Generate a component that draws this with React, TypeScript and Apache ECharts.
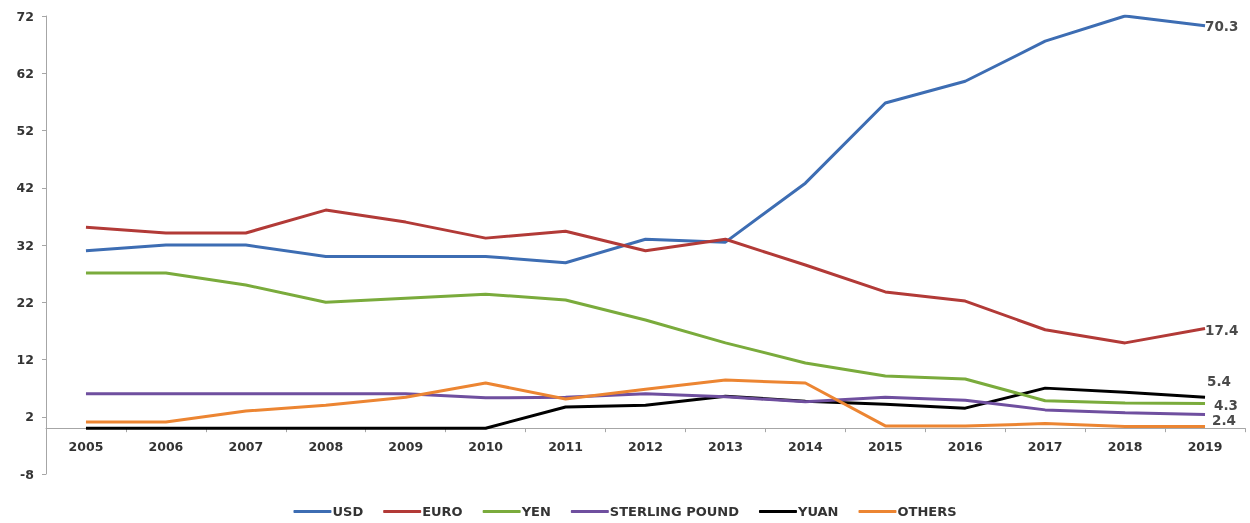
import React, { useEffect, useRef } from "react";
import * as echarts from "echarts";

const years = ["2005", "2006", "2007", "2008", "2009", "2010", "2011", "2012", "2013", "2014", "2015", "2016", "2017", "2018", "2019"];
const usd = [31, 32, 32, 30, 30, 30, 28.9, 33, 32.5, 42.8, 56.8, 60.6, 67.6, 72, 70.3];
const euro = [35.1, 34.1, 34.1, 38.1, 36, 33.2, 34.4, 31, 33, 28.5, 23.8, 22.2, 17.2, 14.9, 17.4];
const yen = [27.1, 27.1, 25, 22, 22.7, 23.4, 22.4, 18.9, 14.9, 11.4, 9.1, 8.6, 4.8, 4.4, 4.3];
const sterling = [6, 6, 6, 6, 6, 5.3, 5.4, 6, 5.5, 4.6, 5.4, 4.9, 3.2, 2.7, 2.4];
const yuan = [0, 0, 0, 0, 0, 0, 3.7, 4, 5.6, 4.7, 4.2, 3.5, 7, 6.3, 5.4];
const others = [1.1, 1.1, 3, 4, 5.4, 7.9, 5.1, 6.8, 8.4, 7.9, 0.4, 0.4, 0.8, 0.3, 0.3];
const yTicks = [-8, 2, 12, 22, 32, 42, 52, 62, 72];
const Y_MIN = -8;
const Y_MAX = 72;

const seriesDefs = [
  { name: "USD", data: usd, color: "#3d6db3", label: true, offset: [-8, 0] },
  { name: "EURO", data: euro, color: "#b23a37", label: true, offset: [-8, 1] },
  { name: "YEN", data: yen, color: "#7aab3c", label: true, offset: [1, 1] },
  { name: "STERLING POUND", data: sterling, color: "#6f4f9f", label: true, offset: [-1, 6] },
  { name: "YUAN", data: yuan, color: "#000000", label: true, offset: [-6, -16] },
  { name: "OTHERS", data: others, color: "#ec8532", label: false, offset: [0, 0] },
];

const FONT = "DejaVu Sans";
const GRID_TOP = 16;
const GRID_BOTTOM = 49;
const H = 523;

export default function App() {
  const ref = useRef<HTMLDivElement>(null);
  useEffect(() => {
    const chart = echarts.init(ref.current!, null, { renderer: "svg" });
    const gridH = H - GRID_TOP - GRID_BOTTOM;
    const zeroOffset = (-Y_MIN / (Y_MAX - Y_MIN)) * gridH;
    chart.setOption({
      animation: false,
      textStyle: { fontFamily: FONT },
      grid: { left: 46, right: 5, top: GRID_TOP, bottom: GRID_BOTTOM },
      legend: {
        bottom: 0,
        left: "center",
        icon: "roundRect",
        itemWidth: 38,
        itemHeight: 3,
        itemGap: 20,
        textStyle: { fontFamily: FONT, fontWeight: "bold", fontSize: 13, color: "#333", padding: [0, 0, 0, -4] },
        data: seriesDefs.map((s) => s.name),
      },
      xAxis: {
        type: "category",
        data: years,
        offset: -zeroOffset,
        axisLine: { onZero: false, lineStyle: { color: "#a6a6a6", width: 1 } },
        axisTick: { show: true, length: 4, lineStyle: { color: "#a6a6a6" } },
        axisLabel: { fontFamily: FONT, fontWeight: "bold", fontSize: 12.5, color: "#333", margin: 12 },
      },
      yAxis: {
        type: "value",
        min: Y_MIN,
        max: Y_MAX,
        splitLine: { show: false },
        axisLine: { show: true, lineStyle: { color: "#a6a6a6", width: 1 } },
        axisTick: { show: true, length: 4, customValues: yTicks, lineStyle: { color: "#a6a6a6" } },
        axisLabel: { customValues: yTicks, fontFamily: FONT, fontWeight: "bold", fontSize: 12.5, color: "#333", margin: 12 },
      },
      series: seriesDefs.map((s) => ({
        name: s.name,
        type: "line",
        data: s.data,
        showSymbol: false,
        symbol: "none",
        color: s.color,
        lineStyle: { width: 3, color: s.color },
        z: s.name === "YUAN" ? 1 : 2,
        endLabel: {
          show: s.label,
          formatter: (p: any) => String(p.value),
          offset: s.offset,
          color: "#4a4a4a",
          fontFamily: FONT,
          fontWeight: "bold",
          fontSize: 13.5,
        },
      })),
    });
    return () => chart.dispose();
  }, []);
  return <div ref={ref} style={{ position: "fixed", left: 0, top: 0, width: 1250, height: 523 }} />;
}
